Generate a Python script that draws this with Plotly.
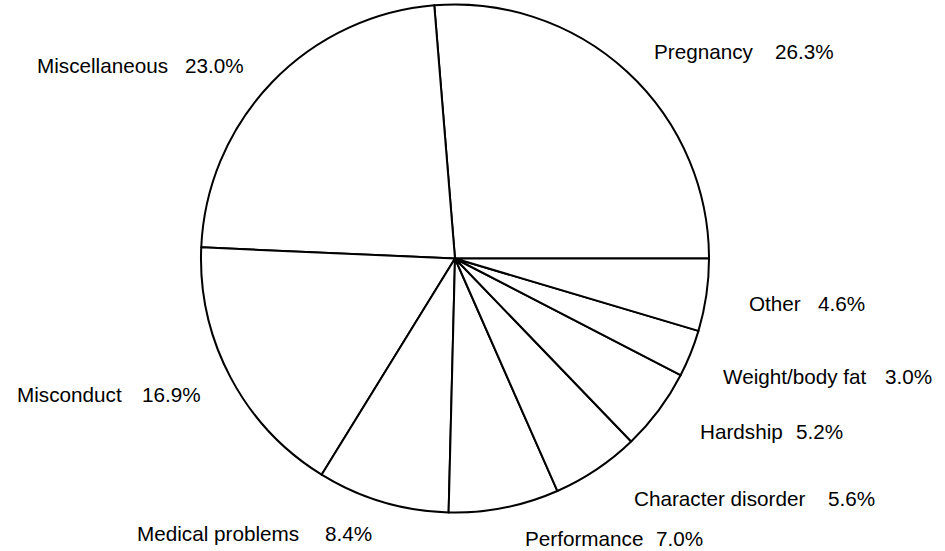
import plotly.graph_objects as go

# ---- data ----
categories = ["Pregnancy", "Miscellaneous", "Misconduct", "Medical problems",
              "Performance", "Character disorder", "Hardship",
              "Weight/body fat", "Other"]
percentages = [26.3, 23.0, 16.9, 8.4, 7.0, 5.6, 5.2, 3.0, 4.6]

# ---- layout (label placement in pixels: label left x, value left x, y centre) ----
W, H = 945, 551
label_left = [652, 35, 15, 135, 523, 632, 698, 721, 747]
value_left = [773, 183, 140, 323, 654, 826, 794, 883, 816]
label_y = [51, 65, 394, 533, 538, 498, 431, 376, 303]

cx, cy, r = 455, 258.5, 254

# first slice starts at 3 o'clock and the slices run counter-clockwise
rotation = 90 - percentages[0] / sum(percentages) * 360

fig = go.Figure()
fig.add_trace(go.Pie(
    labels=categories,
    values=percentages,
    sort=False,
    direction="counterclockwise",
    rotation=rotation,
    textinfo="none",
    hoverinfo="label+percent",
    marker=dict(colors=["white"] * len(categories),
                line=dict(color="black", width=2)),
    domain=dict(x=[(cx - r) / W, (cx + r) / W],
                y=[1 - (cy + r) / H, 1 - (cy - r) / H]),
    showlegend=False,
))

font = dict(family="Liberation Sans, Arial, sans-serif", size=20.7, color="black")
for cat, val, lx, vx, ly in zip(categories, percentages, label_left, value_left, label_y):
    fig.add_annotation(text=cat, x=lx / W, y=1 - ly / H, xref="paper", yref="paper",
                       xanchor="left", yanchor="middle", showarrow=False, font=font)
    fig.add_annotation(text=f"{val:.1f}%", x=vx / W, y=1 - ly / H, xref="paper", yref="paper",
                       xanchor="left", yanchor="middle", showarrow=False, font=font)

fig.update_layout(
    width=W, height=H,
    margin=dict(l=0, r=0, t=0, b=0),
    paper_bgcolor="white",
    plot_bgcolor="white",
)

fig.write_html("out.html", config={"displayModeBar": False},
               post_script="document.body.style.margin='0';")
